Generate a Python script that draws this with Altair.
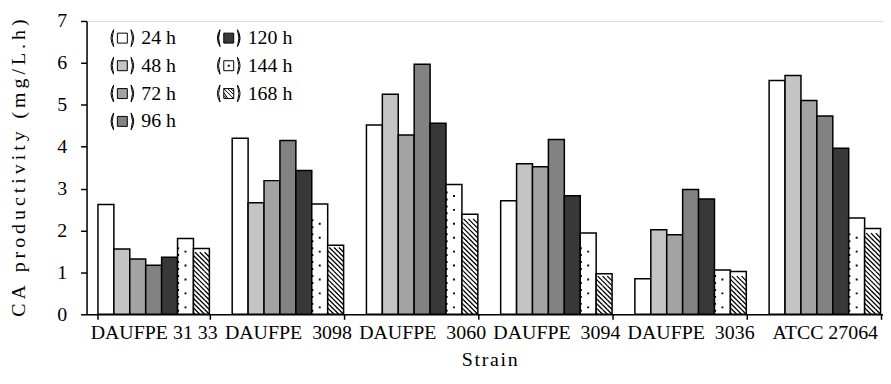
import altair as alt
import pandas as pd

# ---------------- data ----------------
strains = ["DAUFPE 31 33", "DAUFPE\u00a0\u00a03098", "DAUFPE\u00a0\u00a03060",
           "DAUFPE\u00a0\u00a03094", "DAUFPE\u00a0\u00a03036", "ATCC 27064"]
times = ["24 h", "48 h", "72 h", "96 h", "120 h", "144 h", "168 h"]
v_3133 = [2.62, 1.56, 1.32, 1.17, 1.36, 1.81, 1.57]
v_3098 = [4.20, 2.66, 3.19, 4.15, 3.43, 2.63, 1.65]
v_3060 = [4.52, 5.25, 4.28, 5.97, 4.56, 3.10, 2.39]
v_3094 = [2.71, 3.59, 3.52, 4.17, 2.83, 1.94, 0.97]
v_3036 = [0.85, 2.02, 1.90, 2.98, 2.75, 1.06, 1.02]
v_atcc = [5.58, 5.70, 5.10, 4.73, 3.96, 2.30, 2.05]
series = [v_3133, v_3098, v_3060, v_3094, v_3036, v_atcc]
colors = ["#ffffff", "#c4c4c4", "#a3a3a3", "#828282", "#383838", "#ffffff", "#ffffff"]

rows = []
for s, vals in zip(strains, series):
    for t, v in zip(times, vals):
        rows.append({"strain": s, "time": t, "value": v})
df = pd.DataFrame(rows)

# ---------------- layout ----------------
W, H = 810, 295
YMAX = 7
PX = H / YMAX
FONT = "Liberation Serif"

# pattern tiles (derived from the bar values)
def tiles(t, step_px):
    step = step_px / PX
    out = []
    for r in df[df.time == t].itertuples():
        n = int(r.value // step)
        for k in range(n):
            out.append({"strain": r.strain, "time": t, "ty": (k + 0.5) * step})
    return pd.DataFrame(out)

dots_df = tiles("144 h", 14)
hatch_df = tiles("168 h", 4.8)

DOT_PATH = ("M-0.12,-0.12H0.12V0.12H-0.12Z"
            "M-1.05,-0.56H-0.8V-0.31H-1.05Z"
            "M-1.05,0.31H-0.8V0.56H-1.05Z")
HATCH_PATH = ("M-1,0.1L-0.8,0.3M-0.8,-0.3L-0.2,0.3"
              "M-0.2,-0.3L0.4,0.3M0.4,-0.3L1,0.3")

PAR = ("M-1.75,-1.7Q-2.8,0,-1.75,1.7Q-2.35,0,-1.75,-1.7Z"
       "M1.75,-1.7Q2.8,0,1.75,1.7Q2.35,0,1.75,-1.7Z")
BOX = "M-1,-1H1V1H-1Z"
shape_paths = [
    PAR + BOX,
    PAR + BOX,
    PAR + BOX,
    PAR + BOX,
    PAR + BOX,
    PAR + BOX + "M-0.12,-0.12H0.12V0.12H-0.12Z",
    PAR + BOX + "M-1,-0.2L-0.2,1M-1,-1L1,1M-0.2,-1L1,0.2M-1,0.4L-0.4,1M0.4,-1L1,-0.4",
]

ytitle = "\u2009".join("CA productivity (mg/L.h)")
xtitle = "\u200a".join("Strain")

x_axis = alt.Axis(title=xtitle, labelAngle=0, tickBand="extent", tickSize=5,
                  labelPadding=3, labelOverlap=False, labelFont=FONT, labelFontSize=20,
                  labelColor="black", titleFont=FONT, titleFontSize=20,
                  titleFontWeight="normal", titleColor="black", titlePadding=7,
                  domainColor="black", domainWidth=1.5, tickColor="black", tickWidth=1.5,
                  grid=False)
y_axis = alt.Axis(title=ytitle, values=list(range(8)), tickSize=6, labelPadding=14,
                  labelFont=FONT, labelFontSize=20, labelColor="black",
                  titleFont=FONT, titleFontSize=20, titleFontWeight="normal",
                  titleColor="black", titlePadding=28,
                  domainColor="black", domainWidth=1.5, tickColor="black", tickWidth=1.5,
                  grid=False)

xs = alt.Scale(domain=strains, paddingInner=0.17, paddingOuter=0.085)
xo = alt.Scale(domain=times, paddingInner=0, paddingOuter=0)
ys = alt.Scale(domain=[0, YMAX], nice=False)
fill_scale = alt.Scale(domain=times, range=colors)
shape_scale = alt.Scale(domain=times, range=shape_paths)

leg = alt.Legend(title=None, orient="none", legendX=26, legendY=7, columns=2,
                 columnPadding=39, rowPadding=6, values=times,
                 labelFont=FONT, labelFontSize=20, labelColor="black",
                 labelOffset=9, symbolSize=100, symbolStrokeColor="black",
                 symbolStrokeWidth=1, padding=0)

X = alt.X("strain:N", scale=xs, axis=x_axis)
XO = alt.XOffset("time:N", scale=xo)

bars = alt.Chart(df).mark_bar(stroke="black", strokeWidth=1.5).encode(
    x=X, xOffset=XO,
    y=alt.Y("value:Q", scale=ys, axis=y_axis),
    fill=alt.Fill("time:N", scale=fill_scale, legend=leg),
)

legend_layer = alt.Chart(df).transform_filter("false").mark_point(
    filled=True, size=100, stroke="black", strokeWidth=1, opacity=1
).encode(
    x=X, xOffset=XO,
    y=alt.Y("value:Q", scale=ys, axis=y_axis),
    fill=alt.Fill("time:N", scale=fill_scale, legend=leg),
    shape=alt.Shape("time:N", scale=shape_scale, legend=leg),
)

dots = alt.Chart(dots_df).mark_point(
    shape=DOT_PATH, size=256, filled=True, fill="black", strokeWidth=0, opacity=1
).encode(x=X, xOffset=XO, y=alt.Y("ty:Q", scale=ys, axis=y_axis))

hatch = alt.Chart(hatch_df).mark_point(
    shape=HATCH_PATH, size=256, filled=False, stroke="black", strokeWidth=1.3, opacity=1
).encode(x=X, xOffset=XO, y=alt.Y("ty:Q", scale=ys, axis=y_axis))

chart = alt.layer(bars, dots, hatch, legend_layer).properties(
    width=W, height=H,
    autosize=alt.AutoSizeParams(type="none"),
    padding={"left": 79, "top": 12, "right": -9, "bottom": 60},
).configure_view(stroke=None).configure(background="white")

chart.save("out.html", embed_options={"renderer": "svg", "actions": False})
